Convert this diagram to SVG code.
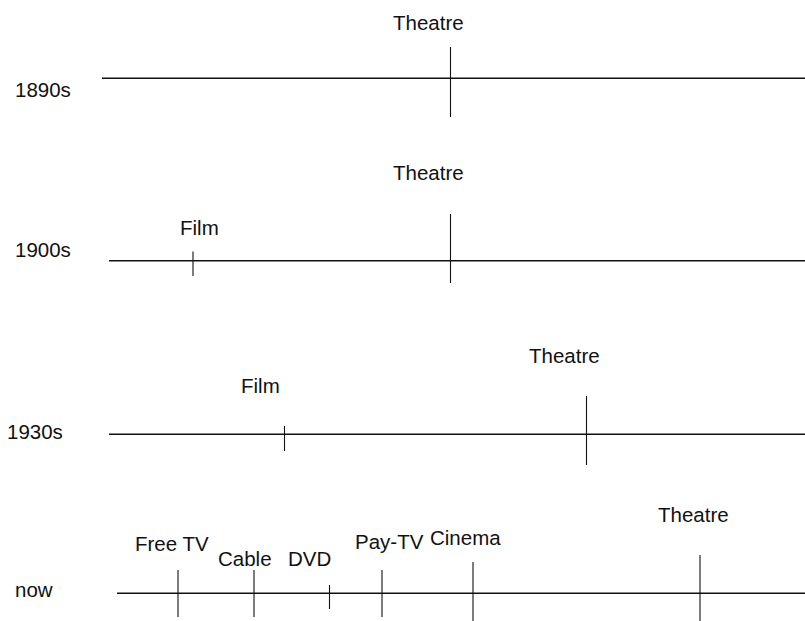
<svg xmlns="http://www.w3.org/2000/svg" width="805" height="621" viewBox="0 0 805 621">
<style>
text{font-family:"Liberation Sans",Arial,sans-serif;font-size:20.5px;fill:#111}
.axis{stroke:#111;stroke-width:1.6;fill:none}
.tick{stroke:#111;stroke-width:1.1;fill:none}
</style>
<rect width="805" height="621" fill="#fff"/>
<g id="row-1890s">
<text x="15" y="97">1890s</text>
<text x="393" y="29.5">Theatre</text>
</g>
<g id="row-1900s">
<text x="15" y="256.5">1900s</text>
<text x="180" y="235">Film</text>
<text x="393" y="180">Theatre</text>
</g>
<g id="row-1930s">
<text x="7" y="439">1930s</text>
<text x="241" y="393">Film</text>
<text x="529" y="362.5">Theatre</text>
</g>
<g id="row-now">
<text x="15" y="597">now</text>
<text x="135" y="551">Free TV</text>
<text x="218" y="566">Cable</text>
<text x="288" y="566">DVD</text>
<text x="355" y="549">Pay-TV</text>
<text x="430" y="545">Cinema</text>
<text x="658" y="521.5">Theatre</text>
</g>
<g id="connectors">
<line class="axis" x1="102" y1="78.3" x2="805" y2="78.3"/>
<line class="tick" x1="450.5" y1="47" x2="450.5" y2="117"/>
<line class="axis" x1="109" y1="260.7" x2="805" y2="260.7"/>
<line class="tick" x1="193" y1="251.5" x2="193" y2="276"/>
<line class="tick" x1="450.5" y1="214" x2="450.5" y2="283"/>
<line class="axis" x1="109" y1="434.3" x2="805" y2="434.3"/>
<line class="tick" x1="284.5" y1="426" x2="284.5" y2="451"/>
<line class="tick" x1="586.5" y1="396" x2="586.5" y2="465"/>
<line class="axis" x1="117" y1="593.3" x2="805" y2="593.3"/>
<line class="tick" x1="178" y1="570" x2="178" y2="617"/>
<line class="tick" x1="254" y1="570" x2="254" y2="617"/>
<line class="tick" x1="329.5" y1="585" x2="329.5" y2="609"/>
<line class="tick" x1="382" y1="570" x2="382" y2="617"/>
<line class="tick" x1="473" y1="562" x2="473" y2="621"/>
<line class="tick" x1="700" y1="555" x2="700" y2="621"/>
</g>
</svg>
